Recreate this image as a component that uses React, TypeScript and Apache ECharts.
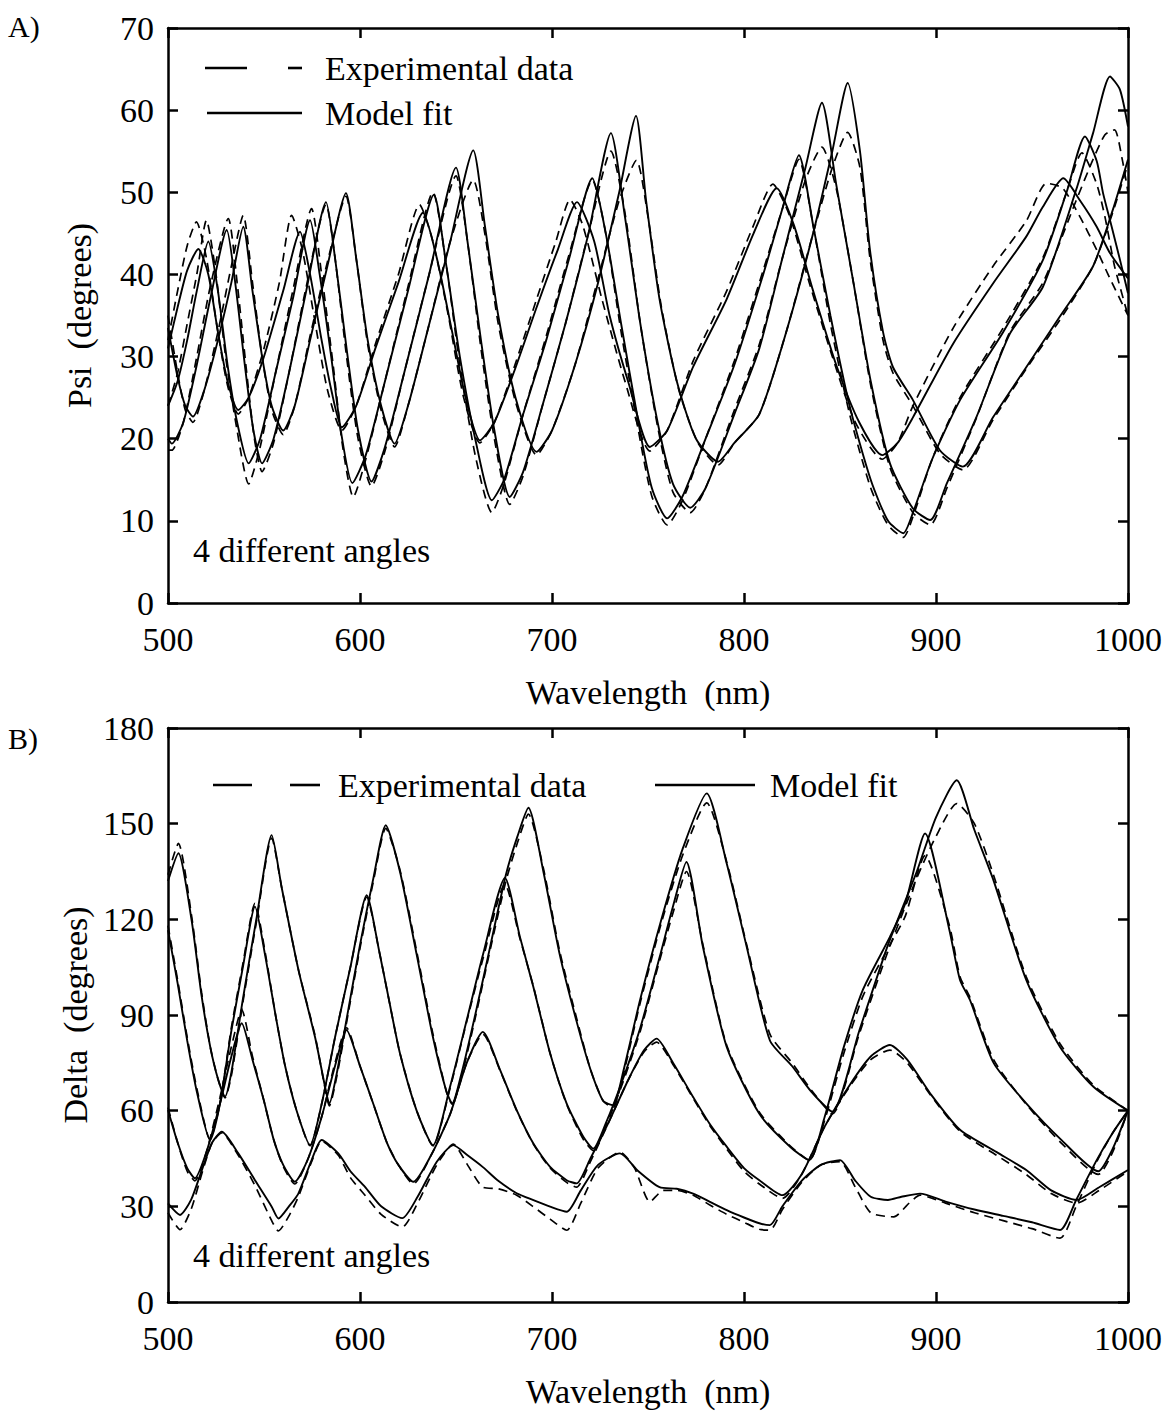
import React, { useEffect, useRef } from "react";
import * as echarts from "echarts";

// ---------- Panel A: Psi (degrees) vs wavelength (nm), 4 angles ----------
const psiFitA = [[500,31],[505,36],[510,40.5],[515.8,43.1],[521,40],[526,33],[531,27],[536.6,23.5],[542,25],[550,30],[560,38],[568.75,45.2],[574,40],[580,32],[585,26],[590.6,21.4],[598,24],[608,31],[620,39],[632.8,47.5],[640,42],[648,33],[655,25],[662.5,19.8],[670,22],[680,28],[692,36],[703,43],[713,48.8],[722,44],[730,35],[740,26.7],[751,19],[760,21],[773.6,28.8],[791,37],[805,45],[817,50.5],[826,46],[836,38],[848,29],[860,22],[872,18],[880,19.5],[888,22.6],[909,31.6],[929.7,38.9],[947,44.6],[955.6,48.2],[966.3,51.7],[975,49],[983.7,45.8],[990.6,42.6],[1000,39.5]];
const psiFitB = [[500,24],[505,27],[510,32],[515,38],[521,44],[526,38],[531,29],[536,22],[542,17],[548,20],[556,28],[565,37],[574,46.6],[579,40],[585,30],[590,21],[596,14.6],[603,18],[613,27],[625,38],[638.5,49.7],[645,41],[652,30],[660,20],[668.7,12.5],[675,15],[685,23],[697,32],[709,42],[721,51.7],[728,45],[736,34],[745,22],[752,14],[760,10.3],[768,13],[780,20],[795,29],[810,40],[820,48],[828.6,54.5],[836,46],[845,35],[855,24],[866,15],[875,10],[883,8.5],[888,11],[898,17.5],[912.5,24.7],[935,33],[955.6,41.7],[968,50],[977.6,56.8],[983.7,53.8],[987,49.9],[991.5,45.8],[995.8,41.8],[1000,37.7]];
const psiFitC = [[500,20],[502,19.4],[508,22],[515,29],[522,37],[530.6,45.4],[535,39],[540,29],[544.5,21],[549,17],[555,20],[563,28],[572,38],[582.3,48.8],[587,42],[593,31],[599,21],[606,14.8],[613,19],[623,28],[636,40],[650,53],[656,44],[663,32],[670,21],[678,12.9],[685,16],[695,24],[707,34],[719,45],[730.7,57.2],[738,47],[746,34],[755,22],[763,14.5],[772,11.6],[780,14],[795,23],[808,31],[820,42],[832,53],[840.6,60.9],[848,51],[857,39],[866,27],[876,17],[888,11.5],[897,10.1],[905.7,14.6],[921,22.6],[938.5,32.8],[955.7,38.5],[973,50.3],[981.8,57.2],[990.6,64.1],[995.8,62.5],[1000,58]];
const psiFitD = [[500,33.5],[505,27.5],[509,24],[513,22.7],[519,26],[526,32],[533,39],[539.2,45.8],[544,38],[549,30],[554,24],[560,21],[566,24],[574,32],[583,41],[592.7,49.9],[598,42],[604,32],[611,24],[618,19.4],[625,24],[635,33],[647,44],[659,55.1],[665,46],[672,35],[681,25],[692,18.4],[700,21],[712,29],[724,39],[735,50],[743.75,59.3],[749,49],[756,37],[765,27],[775,20],[786.5,17.2],[795,19.5],[808,23],[822,33],[836,45],[846,55],[854,63.3],[860.4,55],[865.6,43],[872.4,33],[877.6,28.7],[888,24.7],[902,18.6],[914,16.6],[929.7,22.6],[947,28.7],[964.6,34.9],[981.8,41],[992,47.8],[1000,54]];

const psiExpA = [[500,32],[505,38],[510,43.5],[514.8,46.4],[520,42],[526,33],[531,26.5],[536.6,23],[542,25],[550,31],[558,39],[564.4,47.2],[570,43],[576,35],[583,26],[590.6,21],[598,24],[608,31.5],[620,40],[631,48.5],[638,44],[646,35],[654,25],[662.5,19.5],[670,22],[680,28.5],[692,37],[702,44],[709.4,49.1],[716,46],[726,37],[738,27],[751,18.5],[760,21],[773.6,29.5],[791,38],[805,46],[815,51],[824,47],[834,39],[846,30],[858,22],[872,17.5],[880,19.5],[888,24],[909,33.5],[929.7,41],[947,46.5],[957.6,51.1],[966,50.5],[975,47],[983.7,43],[990.6,39.5],[1000,35]];
const psiExpB = [[500,24],[505,28],[510,34],[515,40],[520,46.6],[525,40],[530,30],[536,21],[542,14.5],[548,19],[556,28],[565,38],[574.8,48],[580,40],[586,29],[591,19],[596.5,12.9],[603,17.5],[613,27],[625,38.5],[638,50],[645,41],[652,29],[660,18],[668.7,11],[675,14.5],[685,23],[697,32.5],[709,42.5],[721,51.5],[728,45],[736,33],[745,21],[752,13],[760,9.5],[768,12.5],[780,20],[795,29.5],[810,40.5],[820,48],[828.6,54],[836,46],[845,34],[855,23],[866,14],[875,9.5],[883,8],[888,10.5],[898,17.5],[912.5,25],[935,33.5],[955.6,42],[968,50],[976,54.8],[983.7,51],[988,47],[993,41],[1000,35]];
const psiExpC = [[500,18.6],[502,18.6],[508,22],[515,30],[522,38.5],[531.4,46.8],[536,39],[541,28],[545,20],[549,16],[555,19.5],[563,28],[572,38.5],[582.3,48.5],[587,42],[593,30],[599,20],[606,14.2],[613,18.5],[623,28],[636,40],[650,52],[656,44],[663,31],[670,20],[678,12],[685,15.5],[695,24],[707,34],[719,45],[730.7,55],[738,47.5],[746,34],[755,21.5],[763,13.5],[772,11],[780,14],[795,23.5],[808,31.5],[820,42],[832,51.5],[840.6,55.5],[848,50.5],[857,39],[866,26.5],[876,16.5],[888,11],[897,9.5],[905.7,14],[921,22.5],[938.5,33],[955.7,39],[973,49],[981.8,54],[988,57],[993,57.6],[997,54],[1000,50]];
const psiExpD = [[500,35],[505,28],[509,23.5],[513,22],[519,26],[526,33],[533,41],[539.2,47.2],[544,39],[549,30],[554,23.5],[560,20.5],[566,24],[574,32.5],[583,41.5],[592.7,49.5],[598,42],[604,31.5],[611,23.5],[618,19],[625,24],[635,33],[647,44],[659,51.5],[665,45],[672,34],[681,24.5],[692,18],[700,21],[712,29],[724,39.5],[735,49],[744,53.9],[750,47],[757,36],[766,26],[776,19.5],[786.5,16.8],[795,19.5],[808,23],[822,33],[836,45],[846,53],[854,57.3],[860.4,53],[865.6,42],[872.4,32],[877.6,28],[888,24],[902,18.2],[914,16.2],[929.7,22.3],[947,28.5],[964.6,34.5],[981.8,41],[992,47.5],[1000,53.5]];

// ---------- Panel B: Delta (degrees) vs wavelength (nm), 4 angles ----------
const deltaFitP = [[500,132],[505.4,140.7],[512.3,119.7],[517.5,96],[522,80],[526,70],[529.7,64.4],[533,72],[539,95],[546,120],[554,146.4],[559.2,130],[568,104],[576.6,83],[581.8,67.5],[584,62.2],[588,72],[594,92],[600,112],[607,133],[613.4,149.5],[620.8,135],[629.5,109],[638,83],[645,66],[648,62.3],[653,72],[660,90],[668,112],[676,134],[682,146],[687.7,155],[695.5,135],[704,109],[712.8,88],[720,73],[726.7,63],[731.8,61.7],[737,72],[746,95],[757,120],[768,142],[780.6,159.5],[791,137.5],[801.4,111.4],[813.5,82],[825,74],[835,66],[846,59.7],[860,85],[875,112],[890,135],[900,152],[910.8,163.6],[920,148],[929.9,132.3],[947,101],[964.6,80],[982,67.5],[1000,60]];
const deltaFitQ2 = [[500,116.6],[505,100],[510,82],[515,66],[521.9,50.8],[527,62],[533,85],[539,105],[545.3,124],[550.5,109],[556,90],[561,74],[567,60],[574,49.2],[580,62],[587,83],[595,105],[603.5,127.6],[610,110],[615,95],[620.8,78],[629.5,60],[638,49.2],[646.9,67.5],[655.6,88.4],[664.2,109.3],[675.5,133],[683.3,114.5],[690.3,98.8],[699,78],[707.6,62.3],[716.3,51.8],[721.5,48.1],[728,56],[737,70],[746,86],[756,108],[763,124],[770,138],[778.6,111.4],[791,80],[808,59],[824,48.7],[834,44.5],[842,58],[852,80],[862,98],[876,114.5],[884,125],[894.3,146.9],[907,116.6],[912.5,101],[917.7,94.7],[930,75],[947,62.3],[965,51],[984.5,41],[992,48],[1000,60]];
const deltaFitQ3 = [[500,60.2],[505,50],[510,42],[514,38.8],[520,47],[527,62],[533,77],[538.4,87.4],[544,76],[550,63],[555,51],[560,43],[566,37.7],[573,45],[580,58],[587,74],[593,85.3],[600,74],[607,62],[614,50],[620,43],[627.8,37.7],[637,46],[647,59],[655.6,75],[664,84.7],[673,72.7],[681.6,60.2],[690.3,49.7],[699,42.4],[707.6,38.2],[712.8,37.2],[720,45],[730,57],[740,70],[748,79],[754.5,82.6],[763,75],[773.4,64.4],[782,56],[791,48.7],[800,42],[808,38.2],[820,33.5],[830,40],[842,55],[855,68],[866,77],[876,80.6],[885,76],[897,65.4],[912.5,54],[931.6,47],[947,41.4],[960,35],[973.3,32],[985,36],[1000,41.4]];
const deltaFitQ4 = [[500,30.9],[506.25,27.3],[512,32],[518,42],[523,50],[528,53.4],[536.6,46.6],[545.3,38.2],[554,29.9],[557.5,26.2],[563,30],[567.9,34],[574.8,44.5],[580,50.8],[588.7,46.6],[595,41],[602.6,36.1],[611,30],[622,26.3],[630,33],[640,44],[648.6,49.2],[656,46],[664,42.3],[672,38],[681.6,34.1],[690,32],[699,29.9],[707.7,28.3],[715,35],[724,43],[735.4,46.6],[745,41],[756,36],[765,35.5],[773.5,34],[782,31.5],[791,28.8],[800,26.5],[808,24.7],[813.5,24.1],[820,30],[830,38],[840,43],[850,44.5],[858,38],[866,33],[875,32],[882,33],[891.7,34],[905,31.5],[920,29],[935,27],[950,25],[964.6,22.6],[973,32],[983.7,44.5],[992,53],[1000,60]];

const deltaExpP = [[500,134],[505.4,143.8],[512.3,121],[517.5,97],[522,80],[526,70],[529.7,64],[533,71],[539,94],[546,119],[554,145.5],[559.2,130],[568,104],[576.6,83.5],[581.8,67],[584,61.5],[588,71],[594,91],[600,111],[607,132],[613.4,148.5],[620.8,135.5],[629.5,110],[638,84],[645,66],[648,62],[653,71],[660,89],[668,111],[676,132],[682,144],[687.7,153],[695.5,136],[704,110],[712.8,89],[720,73],[726.7,63],[731.8,61],[737,71],[746,94],[757,119],[768,140],[780.6,156.5],[791,138],[801.4,112],[813.5,84],[825,75],[835,66.5],[846,59],[860,84],[875,110],[890,133],[900,146],[910.8,156.3],[920,150],[929.9,134],[947,102],[964.6,81],[982,68],[1000,60]];
const deltaExpQ2 = [[500,118],[505,101],[510,83],[515,67],[521.9,51],[527,62],[533,86],[539,106],[545.3,125],[550.5,110],[556,90],[561,74],[567,60],[574,49],[580,62],[587,83],[595,105],[603.5,127],[610,110],[615,95],[620.8,78],[629.5,60],[638,49],[646.9,67],[655.6,88],[664.2,108],[675.5,131],[683.3,114],[690.3,99],[699,78],[707.6,62],[716.3,51],[721.5,47.5],[728,55],[737,69],[746,85],[756,107],[763,122],[770,135],[778.6,112],[791,80.5],[808,59.5],[824,49],[834,44.5],[842,57],[852,78],[862,96],[876,112],[884,121],[894.3,140],[907,118],[912.5,102],[917.7,95.5],[930,76],[947,62],[965,50],[984.5,40],[992,47],[1000,60]];
const deltaExpQ3 = [[500,61],[505,50],[510,41],[514,38],[520,47],[527,64],[533,80],[538.4,91.6],[544,77],[550,63],[555,51],[560,42.5],[566,37],[573,45],[580,58],[587,75],[593,86],[600,74],[607,62],[614,50],[620,43],[627.8,37],[637,46],[647,59],[655.6,75],[664,84],[673,72.5],[681.6,60],[690.3,49.5],[699,42],[707.6,37.5],[712.8,36],[720,44],[730,57],[740,70],[748,78.5],[754.5,81.5],[763,74.5],[773.4,64],[782,55.5],[791,48],[800,41],[808,37],[820,32.5],[830,40],[842,55],[855,67.5],[866,76],[876,79],[885,75],[897,65],[912.5,53.5],[931.6,46],[947,40],[960,34],[973.3,31],[985,35],[1000,41]];
const deltaExpQ4 = [[500,28],[506.25,22.7],[512,29],[518,41],[523,50],[528,53],[536.6,46],[545.3,36.5],[554,25.5],[557.5,22.3],[563,27],[567.9,33],[574.8,44],[580,50.5],[588.7,46],[595,39],[602.6,33.5],[611,27.5],[622,23.5],[630,31],[640,43],[648.6,49.5],[656,43],[664,36],[672,35.5],[681.6,33.5],[690,30],[699,26],[707.7,22.5],[715,31],[724,42],[735.4,47],[743,42],[751,31.4],[758,35],[765,35],[773.5,33.5],[782,30.5],[791,27.5],[800,25],[808,22.8],[813.5,22.5],[820,29],[830,37.5],[840,43],[850,44],[858,36],[866,28],[878,26.7],[886,31],[891.7,33.5],[905,31],[920,28],[935,25.5],[950,23],[964.6,20],[973,30],[983.7,44],[992,53],[1000,60]];

// ---------- Text ----------
const xAxisTitle = "Wavelength  (nm)";
const psiTitle = "Psi  (degrees)";
const deltaTitle = "Delta  (degrees)";
const legendExp = "Experimental data";
const legendFit = "Model fit";
const anglesNote = "4 different angles";
const panelLabels = ["A)", "B)"];

const FONT = '"Liberation Serif", "DejaVu Serif", serif';
const FS = 34;

function makeSeries(data: number[][], grid: number, dashed: boolean) {
  return {
    type: "line",
    xAxisIndex: grid * 2,
    yAxisIndex: grid * 2,
    data,
    symbol: "none",
    showSymbol: false,
    smooth: 0.22,
    silent: true,
    z: dashed ? 2 : 3,
    lineStyle: {
      color: "#000",
      width: dashed ? 1.7 : 1.9,
      type: dashed ? [9, 6] : "solid",
    },
  };
}

function xAx(grid: number, top: boolean) {
  return {
    type: "value",
    gridIndex: grid,
    position: top ? "top" : "bottom",
    min: 500,
    max: 1000,
    interval: 100,
    axisLine: { show: true, onZero: false, lineStyle: { color: "#000", width: 2.5 } },
    axisTick: { show: true, inside: true, length: 10, lineStyle: { color: "#000", width: 2.5 } },
    axisLabel: {
      show: !top,
      color: "#000",
      fontFamily: FONT,
      fontSize: FS,
      margin: 19,
      formatter: (v: number) => String(v),
    },
    splitLine: { show: false },
    name: top ? "" : xAxisTitle,
    nameLocation: "middle",
    nameGap: 72,
    nameTextStyle: { color: "#000", fontFamily: FONT, fontSize: FS },
  };
}

function yAx(grid: number, right: boolean, max: number, interval: number, title: string) {
  return {
    type: "value",
    gridIndex: grid,
    position: right ? "right" : "left",
    min: 0,
    max,
    interval,
    axisLine: { show: true, onZero: false, lineStyle: { color: "#000", width: 2.5 } },
    axisTick: { show: true, inside: true, length: 10, lineStyle: { color: "#000", width: 2.5 } },
    axisLabel: {
      show: !right,
      color: "#000",
      fontFamily: FONT,
      fontSize: FS,
      margin: 14,
      formatter: (v: number) => String(v),
    },
    splitLine: { show: false },
    name: right ? "" : title,
    nameLocation: "middle",
    nameGap: 72,
    nameRotate: 90,
    nameTextStyle: { color: "#000", fontFamily: FONT, fontSize: FS },
  };
}

function txt(text: string, x: number, y: number, size = FS) {
  return {
    type: "text",
    x,
    y,
    style: { text, fill: "#000", fontFamily: FONT, fontSize: size, verticalAlign: "middle", align: "left" },
  };
}
function seg(x1: number, y1: number, x2: number, y2: number) {
  return { type: "line", shape: { x1, y1, x2, y2 }, style: { stroke: "#000", lineWidth: 2.6 } };
}

export default function App() {
  const ref = useRef<HTMLDivElement>(null);
  useEffect(() => {
    if (!ref.current) return;
    const chart = echarts.init(ref.current, null, { renderer: "svg" });
    const option = {
      animation: false,
      backgroundColor: "#fff",
      grid: [
        { left: 168, top: 28, width: 960, height: 575, containLabel: false },
        { left: 168, top: 728, width: 960, height: 574, containLabel: false },
      ],
      xAxis: [xAx(0, false), xAx(0, true), xAx(1, false), xAx(1, true)],
      yAxis: [
        yAx(0, false, 70, 10, psiTitle),
        yAx(0, true, 70, 10, ""),
        yAx(1, false, 180, 30, deltaTitle),
        yAx(1, true, 180, 30, ""),
      ],
      series: [
        makeSeries(psiExpA, 0, true),
        makeSeries(psiExpB, 0, true),
        makeSeries(psiExpC, 0, true),
        makeSeries(psiExpD, 0, true),
        makeSeries(psiFitA, 0, false),
        makeSeries(psiFitB, 0, false),
        makeSeries(psiFitC, 0, false),
        makeSeries(psiFitD, 0, false),
        makeSeries(deltaExpP, 1, true),
        makeSeries(deltaExpQ2, 1, true),
        makeSeries(deltaExpQ3, 1, true),
        makeSeries(deltaExpQ4, 1, true),
        makeSeries(deltaFitP, 1, false),
        makeSeries(deltaFitQ2, 1, false),
        makeSeries(deltaFitQ3, 1, false),
        makeSeries(deltaFitQ4, 1, false),
      ],
      graphic: [
        txt(panelLabels[0], 8, 26, 30),
        txt(panelLabels[1], 8, 738, 30),
        seg(205, 68, 247, 68),
        seg(288, 68, 302, 68),
        txt(legendExp, 325, 68),
        seg(207, 113, 302, 113),
        txt(legendFit, 325, 113),
        txt(anglesNote, 193, 550),
        seg(213, 785, 252, 785),
        seg(290, 785, 320, 785),
        txt(legendExp, 338, 785),
        seg(655, 785, 755, 785),
        txt(legendFit, 770, 785),
        txt(anglesNote, 193, 1255),
      ],
    };
    chart.setOption(option as any);
    return () => chart.dispose();
  }, []);
  return (
    <div
      ref={ref}
      style={{ position: "absolute", left: 0, top: 0, width: 1169, height: 1414, background: "#fff" }}
    />
  );
}
